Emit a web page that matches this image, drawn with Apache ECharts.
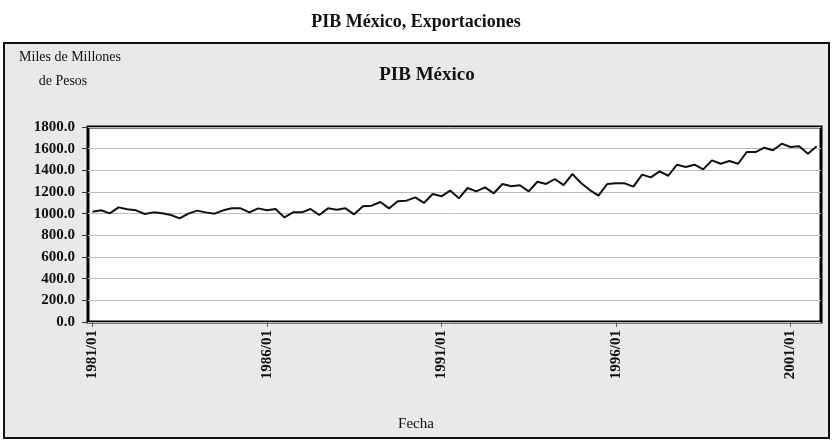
<!DOCTYPE html>
<html>
<head>
<meta charset="utf-8">
<script src="https://cdn.jsdelivr.net/npm/echarts@6/dist/echarts.min.js"></script>
<style>
  html, body { margin: 0; padding: 0; background: #ffffff; }
  #chart { width: 832px; height: 440px; }
</style>
</head>
<body>
<div id="chart"></div>
<script>
// Quarterly series, 1981 Q1 to 2001 Q4
const years = [1981, 1982, 1983, 1984, 1985, 1986, 1987, 1988, 1989, 1990, 1991,
               1992, 1993, 1994, 1995, 1996, 1997, 1998, 1999, 2000, 2001];
const quarterMonths = ['01', '04', '07', '10'];

// PIB México, miles de millones de pesos
const pib = [
  1018, 1031, 1003, 1058, 1040, 1031, 997, 1012, 1003, 988, 957, 1000,
  1028, 1012, 1000, 1031, 1050, 1049, 1012, 1049, 1031, 1043, 966, 1012,
  1012, 1043, 988, 1049, 1037, 1049, 994, 1068, 1074, 1108, 1049, 1114,
  1120, 1151, 1099, 1182, 1160, 1213, 1142, 1237, 1206, 1243, 1188, 1274,
  1253, 1262, 1206, 1295, 1274, 1320, 1264, 1366, 1283, 1218, 1166, 1274,
  1280, 1280, 1249, 1360, 1335, 1391, 1350, 1452, 1431, 1452, 1409, 1492,
  1461, 1486, 1461, 1569, 1569, 1609, 1585, 1646, 1615, 1622, 1554, 1622
];

const yTicks = { min: 0, max: 1800, step: 200 };

const fechas = [];
years.forEach(y => quarterMonths.forEach(m => fechas.push(y + '/' + m)));

const serif = "'Liberation Serif', 'Times New Roman', serif";
const every5Years = idx => idx % 20 === 0;

const chart = echarts.init(document.getElementById('chart'), null, { renderer: 'canvas' });

chart.setOption({
  backgroundColor: '#ffffff',
  animation: false,
  title: [
    {
      text: 'PIB México, Exportaciones',
      left: 'center',
      top: 8,
      textStyle: { fontFamily: serif, fontWeight: 'bold', fontSize: 18, color: '#111' }
    },
    {
      text: 'PIB México',
      left: 422,
      top: 61,
      textAlign: 'center',
      textStyle: { fontFamily: serif, fontWeight: 'bold', fontSize: 19, color: '#111' }
    }
  ],
  graphic: [
    {
      type: 'rect',
      z: -10,
      silent: true,
      shape: { x: 4, y: 43, width: 825, height: 395 },
      style: { fill: '#e9e9e9', stroke: '#111', lineWidth: 2 }
    },
    {
      type: 'text',
      silent: true,
      style: {
        x: 70, y: 57,
        text: 'Miles de Millones',
        fontFamily: serif, fontSize: 14,
        fill: '#111', align: 'center', verticalAlign: 'middle'
      }
    },
    {
      type: 'text',
      silent: true,
      style: {
        x: 63, y: 81,
        text: 'de Pesos',
        fontFamily: serif, fontSize: 14,
        fill: '#111', align: 'center', verticalAlign: 'middle'
      }
    },
    {
      type: 'text',
      silent: true,
      style: {
        x: 416, y: 424,
        text: 'Fecha',
        fontFamily: serif, fontSize: 15,
        fill: '#111', align: 'center', verticalAlign: 'middle'
      }
    }
  ],
  grid: {
    left: 88, right: 11, top: 127, bottom: 118,
    show: true,
    backgroundColor: '#ffffff',
    borderColor: '#000',
    borderWidth: 3
  },
  xAxis: {
    type: 'category',
    data: fechas,
    boundaryGap: true,
    axisLine: { show: false },
    axisTick: {
      show: true, interval: every5Years, alignWithLabel: true, length: 5,
      lineStyle: { color: '#666', width: 1 }
    },
    axisLabel: {
      interval: every5Years,
      rotate: 90,
      margin: 8,
      fontFamily: serif, fontWeight: 'bold', fontSize: 15, color: '#111'
    },
    splitLine: { show: false }
  },
  yAxis: {
    type: 'value',
    min: yTicks.min,
    max: yTicks.max,
    interval: yTicks.step,
    axisLine: { show: false },
    axisTick: { show: true, length: 6, lineStyle: { color: '#333', width: 1 } },
    axisLabel: {
      margin: 13,
      formatter: v => v.toFixed(1),
      fontFamily: serif, fontWeight: 'bold', fontSize: 15, color: '#111'
    },
    splitLine: { show: true, lineStyle: { color: '#bcbcbc', width: 1 } }
  },
  series: [
    {
      name: 'PIB México',
      type: 'line',
      data: pib,
      symbol: 'none',
      smooth: false,
      lineStyle: { color: '#111', width: 2 }
    }
  ]
});
</script>
</body>
</html>
